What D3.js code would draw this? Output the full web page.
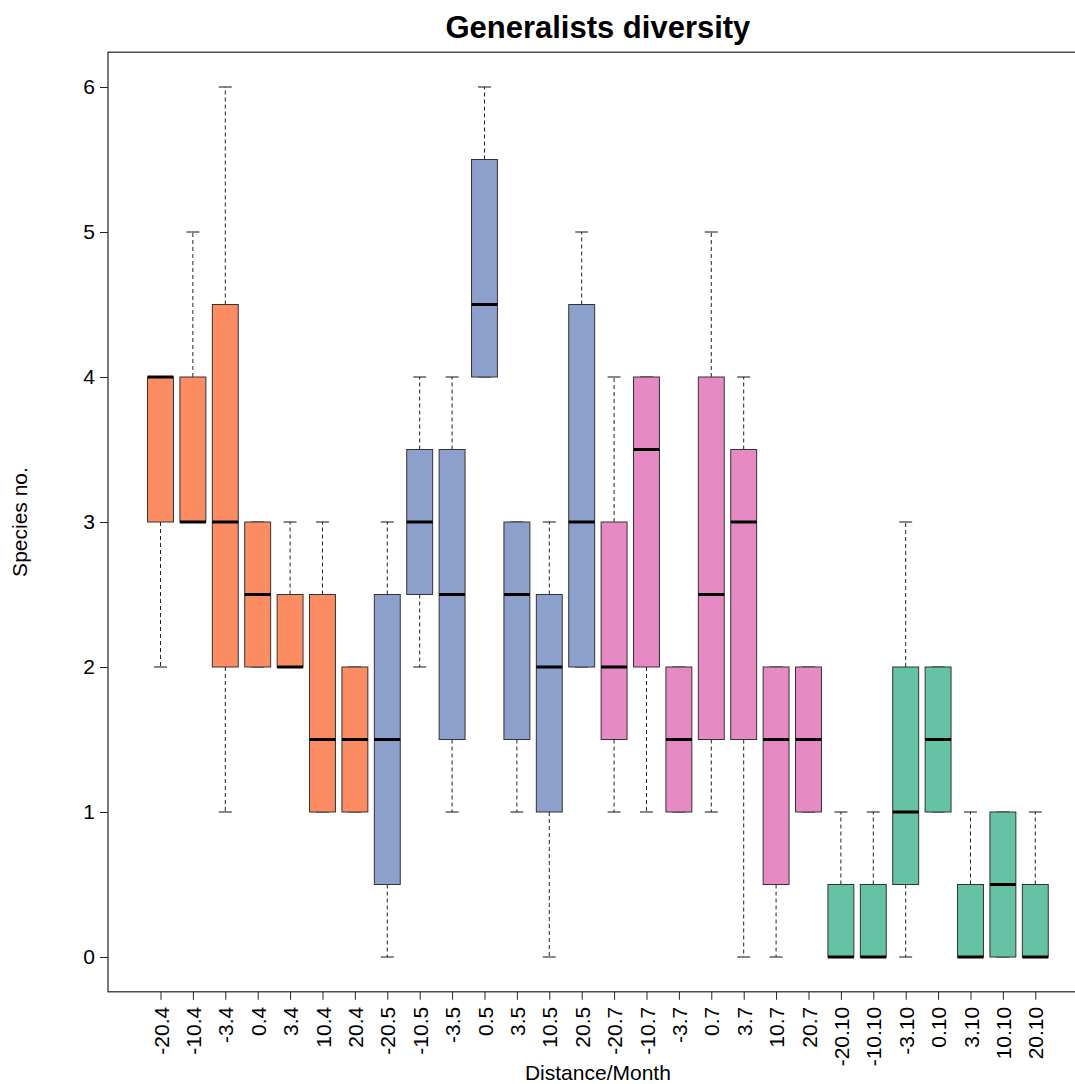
<!DOCTYPE html>
<html>
<head>
<meta charset="utf-8">
<script src="https://cdn.jsdelivr.net/npm/d3@7/dist/d3.min.js"></script>
<style>
  html, body { margin: 0; padding: 0; background: #fff; }
  svg { display: block; font-family: "Liberation Sans", Arial, sans-serif; }
</style>
</head>
<body>
<svg id="chart" width="1075" height="1084"></svg>
<script>
// Distance/Month groups for each box
const categories = [
  "-20.4", "-10.4", "-3.4", "0.4", "3.4", "10.4", "20.4",
  "-20.5", "-10.5", "-3.5", "0.5", "3.5", "10.5", "20.5",
  "-20.7", "-10.7", "-3.7", "0.7", "3.7", "10.7", "20.7",
  "-20.10", "-10.10", "-3.10", "0.10", "3.10", "10.10", "20.10"
];
// Month each category belongs to (sets the fill colour)
const months = [
  4, 4, 4, 4, 4, 4, 4,
  5, 5, 5, 5, 5, 5, 5,
  7, 7, 7, 7, 7, 7, 7,
  10, 10, 10, 10, 10, 10, 10
];
const monthColors = { 4: "#FC8D62", 5: "#8DA0CB", 7: "#E78AC3", 10: "#66C2A5" };

// Five-number summaries: lower whisker, Q1, median, Q3, upper whisker
const whiskerLow  = [2, 3, 1, 2, 2, 1, 1,   0, 2, 1, 4, 1, 0, 2,   1, 1, 1, 1, 0, 0, 1,   0, 0, 0, 1, 0, 0, 0];
const q1          = [3, 3, 2, 2, 2, 1, 1,   0.5, 2.5, 1.5, 4, 1.5, 1, 2,   1.5, 2, 1, 1.5, 1.5, 0.5, 1,   0, 0, 0.5, 1, 0, 0, 0];
const medians     = [4, 3, 3, 2.5, 2, 1.5, 1.5,   1.5, 3, 2.5, 4.5, 2.5, 2, 3,   2, 3.5, 1.5, 2.5, 3, 1.5, 1.5,   0, 0, 1, 1.5, 0, 0.5, 0];
const q3          = [4, 4, 4.5, 3, 2.5, 2.5, 2,   2.5, 3.5, 3.5, 5.5, 3, 2.5, 4.5,   3, 4, 2, 4, 3.5, 2, 2,   0.5, 0.5, 2, 2, 0.5, 1, 0.5];
const whiskerHigh = [4, 5, 6, 3, 3, 3, 2,   3, 4, 4, 6, 3, 3, 5,   4, 4, 2, 5, 4, 2, 2,   1, 1, 3, 2, 1, 1, 1];

const yTicks = [0, 1, 2, 3, 4, 5, 6];

const svg = d3.select("#chart");
const n = categories.length;

// Position scale: boxes at 1..n, padded like a base-graphics box plot
const xPad = (n) * 0.04;
const x = d3.scaleLinear()
  .domain([0.5 - xPad, n + 0.5 + xPad])
  .range([108, 108 + (n + 2 * xPad) * 32.4]);

const yPad = 6 * 0.04;
const y = d3.scaleLinear()
  .domain([-yPad, 6 + yPad])
  .range([991.8, 52.2]);

const unit = x(2) - x(1);
const boxW = unit * 0.8;
const stapleW = boxW * 0.5;

// Axes
const yAxis = d3.axisLeft(y).tickValues(yTicks).tickSize(8).tickPadding(5).tickFormat(d3.format("d"));
const gy = svg.append("g").attr("transform", `translate(${x.range()[0]},0)`).call(yAxis);
gy.select(".domain").remove();
gy.selectAll("text").attr("font-size", 21).attr("fill", "#000").attr("font-family", "Liberation Sans, Arial, sans-serif");
gy.selectAll("line").attr("stroke", "#222");

const xAxis = d3.axisBottom(x)
  .tickValues(d3.range(1, n + 1))
  .tickSize(8)
  .tickFormat(i => categories[i - 1]);
const gx = svg.append("g").attr("transform", `translate(0,${y.range()[0]})`).call(xAxis);
gx.select(".domain").remove();
gx.selectAll("line").attr("stroke", "#222");
gx.selectAll("text")
  .attr("font-size", 21)
  .attr("fill", "#000")
  .attr("font-family", "Liberation Sans, Arial, sans-serif")
  .attr("text-anchor", "end")
  .attr("transform", "rotate(-90)")
  .attr("x", -15)
  .attr("y", 0)
  .attr("dy", "0.36em");

// Boxes
const idx = d3.range(n);
const g = svg.append("g");

// Dashed whiskers
g.selectAll("line.wlo").data(idx).join("line")
  .attr("x1", i => x(i + 1)).attr("x2", i => x(i + 1))
  .attr("y1", i => y(q1[i])).attr("y2", i => y(whiskerLow[i]))
  .attr("stroke", "#222").attr("stroke-width", 1).attr("stroke-dasharray", "4,3");
g.selectAll("line.whi").data(idx).join("line")
  .attr("x1", i => x(i + 1)).attr("x2", i => x(i + 1))
  .attr("y1", i => y(q3[i])).attr("y2", i => y(whiskerHigh[i]))
  .attr("stroke", "#222").attr("stroke-width", 1).attr("stroke-dasharray", "4,3");

// Staples
[whiskerLow, whiskerHigh].forEach(arr => {
  g.append("g").selectAll("line").data(idx).join("line")
    .attr("x1", i => x(i + 1) - stapleW / 2).attr("x2", i => x(i + 1) + stapleW / 2)
    .attr("y1", i => y(arr[i])).attr("y2", i => y(arr[i]))
    .attr("stroke", "#111").attr("stroke-width", 1);
});

// Interquartile boxes
g.append("g").selectAll("rect").data(idx).join("rect")
  .attr("x", i => x(i + 1) - boxW / 2)
  .attr("width", boxW)
  .attr("y", i => y(q3[i]))
  .attr("height", i => y(q1[i]) - y(q3[i]))
  .attr("fill", i => monthColors[months[i]])
  .attr("stroke", "#333")
  .attr("stroke-width", 1);

// Medians
g.append("g").selectAll("line").data(idx).join("line")
  .attr("x1", i => x(i + 1) - boxW / 2).attr("x2", i => x(i + 1) + boxW / 2)
  .attr("y1", i => y(medians[i])).attr("y2", i => y(medians[i]))
  .attr("stroke", "#000").attr("stroke-width", 3);

// Plot frame
svg.append("rect")
  .attr("x", x.range()[0]).attr("y", y.range()[1])
  .attr("width", x.range()[1] - x.range()[0])
  .attr("height", y.range()[0] - y.range()[1])
  .attr("fill", "none").attr("stroke", "#222").attr("stroke-width", 1.2);

// Titles
const cx = (x.range()[0] + x.range()[1]) / 2;
svg.append("text")
  .attr("x", cx).attr("y", 38)
  .attr("text-anchor", "middle")
  .attr("font-size", 31).attr("font-weight", "bold")
  .text("Generalists diversity");

svg.append("text")
  .attr("x", cx).attr("y", 1080)
  .attr("text-anchor", "middle")
  .attr("font-size", 21)
  .text("Distance/Month");

svg.append("text")
  .attr("transform", `translate(27,${(y.range()[0] + y.range()[1]) / 2}) rotate(-90)`)
  .attr("text-anchor", "middle")
  .attr("font-size", 21)
  .text("Species no.");
</script>
</body>
</html>
